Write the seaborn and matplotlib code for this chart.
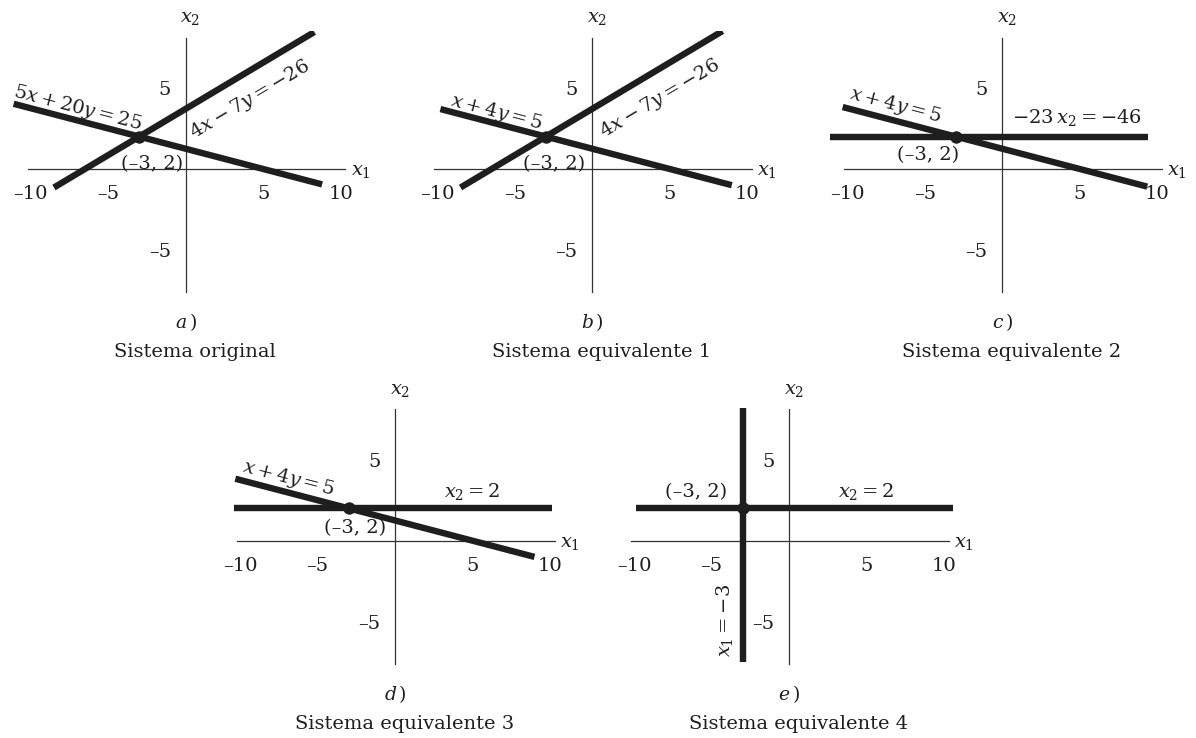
import numpy as np
import matplotlib
matplotlib.use("Agg")
import matplotlib.pyplot as plt
import seaborn as sns

# ---- datos ----
xticks = [-10, -5, 5, 10]
xtick_labels = ["–10", "–5", "5", "10"]
yticks = [-5, 5]
ytick_labels = ["–5", "5"]
solution = (-3, 2)

# rectas a*x1 + b*x2 = c ; tramo dibujado (en x1, o en x2 si b == 0)
coef_a = [(5, 20, 25), (4, -7, -26)]
span_a = [(-11.1, 8.8), (-8.5, 8.3)]
coef_b = [(1, 4, 5), (4, -7, -26)]
span_b = [(-9.8, 9.0), (-8.5, 8.4)]
coef_c = [(1, 4, 5), (0, -23, -46)]
span_c = [(-10.3, 9.35), (-11.1, 9.4)]
coef_d = [(1, 4, 5), (0, 1, 2)]
span_d = [(-10.3, 9.0), (-10.4, 10.1)]
coef_e = [(1, 0, -3), (0, 1, 2)]
span_e = [(-7.5, 8.2), (-9.85, 10.6)]

# etiquetas: (texto, x, y, recta a la que se alinea)
labels_a = [("$5x + 20y = 25$", -7.0, 3.77, 0),
            ("$4x - 7y = -26$", 4.12, 4.26, 1),
            ("(–3, 2)", -2.15, 0.31, None)]
labels_b = [("$x + 4y = 5$", -6.18, 3.49, 0),
            ("$4x - 7y = -26$", 4.37, 4.32, 1),
            ("(–3, 2)", -2.47, 0.28, None)]
labels_c = [("$x + 4y = 5$", -6.86, 3.95, 0),
            ("$-23\\,x_2 = -46$", 4.85, 3.18, None),
            ("(–3, 2)", -4.76, 0.86, None)]
labels_d = [("$x + 4y = 5$", -6.88, 3.85, 0),
            ("$x_2 = 2$", 5.0, 3.02, None),
            ("(–3, 2)", -2.58, 0.78, None)]
labels_e = [("(–3, 2)", -6.0, 2.98, None),
            ("$x_2 = 2$", 5.0, 3.02, None),
            ("$x_1 = -3$", -4.19, -4.9, 0)]

letters = ["a", "b", "c", "d", "e"]
titles = ["Sistema original", "Sistema equivalente 1", "Sistema equivalente 2",
          "Sistema equivalente 3", "Sistema equivalente 4"]

# ---- estilo ----
sns.set_theme(style="white")
plt.rcParams["font.family"] = ["DejaVu Serif"]
plt.rcParams["mathtext.fontset"] = "dejavuserif"

INK = "#1e1e1e"
W, H = 1196, 738
SX, SY = 15.5, 16.2          # px por unidad
XL, YL = (-12, 12), (-8, 8.5)
origins = [(185.7, 169), (592.3, 169), (1002.3, 169), (395, 540.7), (789, 540.7)]

fig = plt.figure(figsize=(W / 100, H / 100), dpi=100)


def make_ax(ox, oy):
    left = (ox + XL[0] * SX) / W
    bottom = 1 - (oy - YL[0] * SY) / H
    ax = fig.add_axes([left, bottom, (XL[1] - XL[0]) * SX / W, (YL[1] - YL[0]) * SY / H])
    ax.set_xlim(XL)
    ax.set_ylim(YL)
    ax.patch.set_visible(False)
    for s in ["top", "right"]:
        ax.spines[s].set_visible(False)
    for s in ["left", "bottom"]:
        ax.spines[s].set_position(("data", 0))
        ax.spines[s].set_color("#333333")
        ax.spines[s].set_linewidth(0.9)
    ax.spines["bottom"].set_bounds(-10.2, 10.3)
    ax.spines["left"].set_bounds(-7.6, 8.1)
    ax.set_xticks(xticks, xtick_labels)
    ax.set_yticks(yticks, ytick_labels)
    ax.tick_params(axis="x", direction="inout", length=7.5, width=0.9, pad=8,
                   labelsize=14, colors="#333333", labelcolor=INK)
    ax.tick_params(axis="y", direction="inout", length=11, width=0.9, pad=5,
                   labelsize=14, colors="#333333", labelcolor=INK)
    ax.text(10.65, -0.37, "$x_1$", ha="left", va="baseline", fontsize=14, color=INK)
    ax.text(0.3, 9.07, "$x_2$", ha="center", va="baseline", fontsize=14, color=INK)
    return ax


def draw_line(ax, coef, span):
    a, b, c = coef
    t = np.array(span, dtype=float)
    if b == 0:
        xs, ys = np.full(2, c / a), t
    else:
        xs, ys = t, (c - a * t) / b
    sns.lineplot(x=xs, y=ys, ax=ax, color=INK, lw=4.6, estimator=None, sort=False,
                 zorder=3, solid_capstyle="butt")


panels = [(coef_a, span_a, labels_a), (coef_b, span_b, labels_b),
          (coef_c, span_c, labels_c), (coef_d, span_d, labels_d),
          (coef_e, span_e, labels_e)]

for i, (coefs, spans, labels) in enumerate(panels):
    ax = make_ax(*origins[i])
    for coef, span in zip(coefs, spans):
        draw_line(ax, coef, span)
    sns.scatterplot(x=[solution[0]], y=[solution[1]], ax=ax, color=INK, s=80,
                    linewidth=0, zorder=4)
    for txt, x, y, ref in labels:
        rot = 0
        if ref is not None:
            a, b, _ = coefs[ref]
            rot = 90 if b == 0 else np.degrees(np.arctan(-a / b))
        ax.text(x, y, txt, ha="center", va="center", rotation=rot,
                rotation_mode="anchor", transform_rotates_text=True,
                fontsize=14, color=INK)
    ax.text(0.0, -9.44, f"${letters[i]}\\,)$", ha="center", va="center",
            fontsize=13.5, color=INK)
    ax.text(0.6, -11.3, titles[i], ha="center", va="center", fontsize=14, color=INK)

fig.savefig("out.png", dpi=100)
